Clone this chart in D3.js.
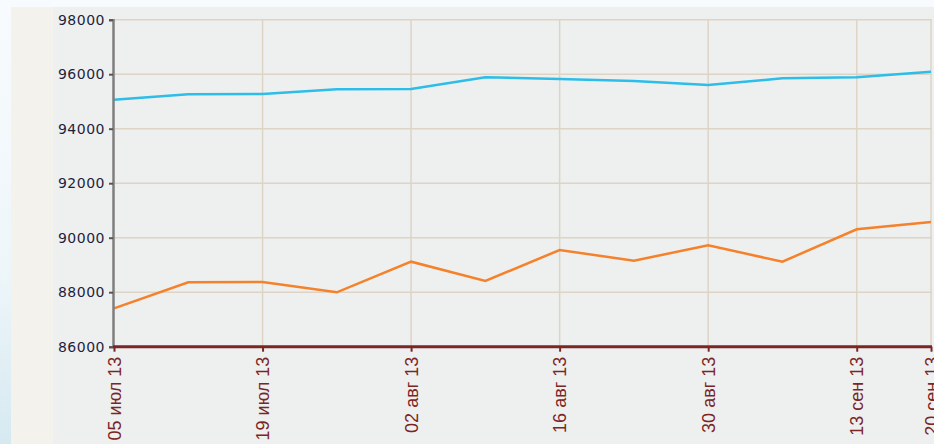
<!DOCTYPE html>
<html>
<head>
<meta charset="utf-8">
<script src="https://cdn.jsdelivr.net/npm/d3@7"></script>
<style>
    html, body { margin: 0; padding: 0; background: #f7fbfd; }
    svg { display: block; }
</style>
</head>
<body>
<div id="chart"></div>
<script>
var dates = ['2013-07-05', '2013-07-12', '2013-07-19', '2013-07-26', '2013-08-02', '2013-08-09',
             '2013-08-16', '2013-08-23', '2013-08-30', '2013-09-06', '2013-09-13', '2013-09-20'],
    blueValues = [95065, 95265, 95275, 95447, 95457, 95887, 95824, 95751, 95604, 95850, 95887, 96093],
    orangeValues = [87409, 88363, 88374, 87996, 89120, 88411, 89549, 89156, 89721, 89120, 90309, 90576],
    yTicks = [86000, 88000, 90000, 92000, 94000, 96000, 98000],
    xTickDates = ['2013-07-05', '2013-07-19', '2013-08-02', '2013-08-16', '2013-08-30', '2013-09-13', '2013-09-20'],
    monthNames = ['янв', 'фев', 'мар', 'апр', 'май', 'июн', 'июл', 'авг', 'сен', 'окт', 'ноя', 'дек'];

var width = 934, height = 444;
var parse = d3.timeParse('%Y-%m-%d');

function fmtDate(d) {
    return d3.timeFormat('%d')(d) + ' ' + monthNames[d.getMonth()] + ' ' + d3.timeFormat('%y')(d);
}

var svg = d3.select('#chart').append('svg')
    .attr('width', width)
    .attr('height', height);

// Backdrop
var defs = svg.append('defs');
var grad = defs.append('linearGradient')
    .attr('id', 'edge')
    .attr('x1', 0).attr('y1', 0).attr('x2', 0).attr('y2', 1);
grad.append('stop').attr('offset', '0%').attr('stop-color', '#f8fbfd');
grad.append('stop').attr('offset', '60%').attr('stop-color', '#eef6fa');
grad.append('stop').attr('offset', '100%').attr('stop-color', '#d6e9f1');

svg.append('rect').attr('width', width).attr('height', height).attr('fill', 'url(#edge)');
svg.append('rect').attr('x', 11).attr('y', 7).attr('width', 42).attr('height', height - 7).attr('fill', '#f4f2ec');
svg.append('rect').attr('x', 53).attr('y', 7).attr('width', width - 53).attr('height', height - 7).attr('fill', '#eef0ef');

// Scales
var x = d3.scaleTime()
    .domain([parse(dates[0]), parse(dates[dates.length - 1])])
    .range([114, 931]);

var y = d3.scaleLinear()
    .domain([86000, 98000])
    .range([346.7, 19.7]);

// Grid
var grid = svg.append('g').attr('stroke', '#ddd4c6').attr('stroke-width', 1.5);
grid.selectAll('.hg')
    .data(yTicks)
    .enter().append('line')
    .attr('x1', 114).attr('x2', 932)
    .attr('y1', d => y(d)).attr('y2', d => y(d));
grid.selectAll('.vg')
    .data(xTickDates.slice(1))
    .enter().append('line')
    .attr('x1', d => x(parse(d))).attr('x2', d => x(parse(d)))
    .attr('y1', y(98000)).attr('y2', y(86000));

// Lines
var line = d3.line()
    .x((d, i) => x(parse(dates[i])))
    .y(d => y(d));

svg.append('path')
    .datum(blueValues)
    .attr('d', line)
    .attr('fill', 'none')
    .attr('stroke', '#2cbde9')
    .attr('stroke-width', 2.5);

svg.append('path')
    .datum(orangeValues)
    .attr('d', line)
    .attr('fill', 'none')
    .attr('stroke', '#f5812b')
    .attr('stroke-width', 2.5);

// Y axis
var yAxis = svg.append('g')
    .attr('transform', 'translate(113,0)')
    .call(d3.axisLeft(y).tickValues(yTicks).tickSize(4).tickPadding(4).tickFormat(d3.format('d')));
yAxis.select('.domain').attr('stroke', '#7f7f7f').attr('stroke-width', 2.5);
yAxis.selectAll('.tick line').attr('stroke', '#555').attr('stroke-width', 2);
yAxis.selectAll('.tick text')
    .attr('fill', '#1f1f3d')
    .style('font-family', '"DejaVu Sans", Verdana, sans-serif')
    .style('font-size', '14px')
    .style('letter-spacing', '0.5px');

// X axis
var xAxis = svg.append('g')
    .attr('transform', 'translate(0,' + y(86000) + ')')
    .call(d3.axisBottom(x).tickValues(xTickDates.map(parse)).tickSize(5).tickFormat(fmtDate));
xAxis.select('.domain').attr('stroke', '#7b2626').attr('stroke-width', 3).attr('d', 'M113,0H932');
xAxis.selectAll('.tick line').attr('stroke', '#7b2626').attr('stroke-width', 2);
xAxis.selectAll('.tick text')
    .attr('fill', '#7b2626')
    .attr('text-anchor', 'end')
    .attr('dy', null)
    .attr('y', 0)
    .attr('transform', 'translate(6,10) rotate(-90)')
    .style('font-family', '"Liberation Sans", Arial, sans-serif')
    .style('font-size', '18px');
</script>
</body>
</html>
